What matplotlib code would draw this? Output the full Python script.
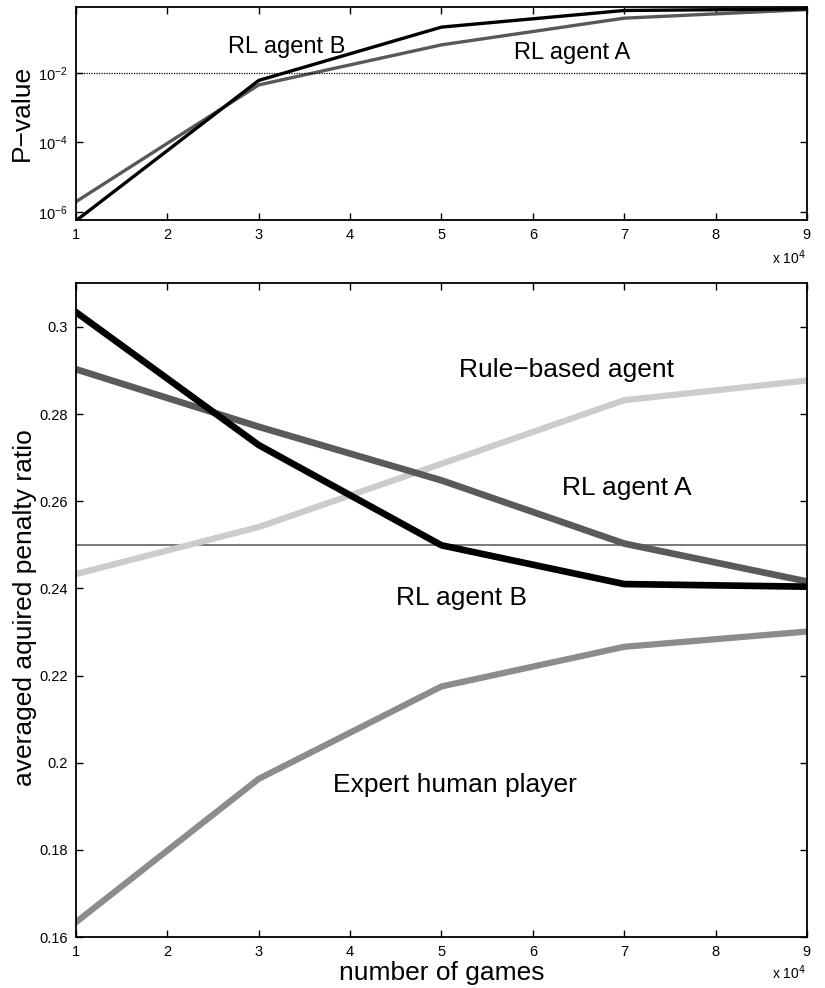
#!/usr/bin/env python3
"""P-value and averaged penalty ratio vs number of training games."""

import matplotlib

matplotlib.use("Agg")
import matplotlib.pyplot as plt
from matplotlib.ticker import FixedLocator, FuncFormatter, NullLocator

plt.rcParams["font.family"] = ["Liberation Sans", "DejaVu Sans"]

# number of games
games = [10000, 30000, 50000, 70000, 90000]

# top panel: P-values (log scale)
pval_agent_a = [1.95e-6, 4.6e-3, 6.6e-2, 3.9e-1, 6.9e-1]
pval_agent_b = [5.5e-7, 6.2e-3, 2.15e-1, 6.5e-1, 7.2e-1]
pval_threshold = 1e-2

# bottom panel: averaged aquired penalty ratio
ratio_agent_a = [0.2903, 0.2771, 0.2648, 0.2503, 0.2416]
ratio_agent_b = [0.3034, 0.2729, 0.2499, 0.2410, 0.2404]
ratio_rule_based = [0.2433, 0.2541, 0.2686, 0.2832, 0.2877]
ratio_expert = [0.1634, 0.1963, 0.2175, 0.2266, 0.2301]
ratio_reference = 0.25

x_ticks = [10000 * k for k in range(1, 10)]


def _style_axis(ax, exp_y):
    ax.set_xlim(10000, 90000)
    ax.xaxis.set_major_locator(FixedLocator(x_ticks))
    ax.xaxis.set_major_formatter(FuncFormatter(lambda v, _: f"{v / 1e4:g}"))
    ax.tick_params(direction="in", length=5, width=1.0, top=True, right=True,
                   labelsize=10.5, pad=6)
    for spine in ax.spines.values():
        spine.set_linewidth(1.3)
    ax.text(0.998, exp_y, r"x 10$^4$", transform=ax.transAxes,
            ha="right", va="center", fontsize=10)


fig = plt.figure(figsize=(8.25, 9.88), dpi=100)
ax_p = fig.add_axes([0.0921, 0.7773, 0.886, 0.2156])
ax_r = fig.add_axes([0.0921, 0.0516, 0.886, 0.662])

# --- P-value panel ---
ax_p.set_yscale("log")
ax_p.plot(games, pval_agent_a, color="#585858", lw=2.4, solid_joinstyle="round")
ax_p.plot(games, pval_agent_b, color="black", lw=2.4, solid_joinstyle="round")
ax_p.axhline(pval_threshold, color="black", lw=0.9, ls=(0, (1, 1)))
ax_p.set_ylim(10 ** -6.24, 10 ** -0.087)
ax_p.yaxis.set_major_locator(FixedLocator([1e-6, 1e-4, 1e-2]))
ax_p.yaxis.set_minor_locator(NullLocator())
ax_p.set_ylabel("P\u2212value", fontsize=19, va="center")
ax_p.yaxis.set_label_coords(-0.074, 0.502)
ax_p.text(33100, 0.057, "RL agent B", fontsize=17, ha="center", va="center")
ax_p.text(64300, 0.039, "RL agent A", fontsize=17, ha="center", va="center")
_style_axis(ax_p, -0.178)

# --- penalty ratio panel ---
ax_r.axhline(ratio_reference, color="#555555", lw=1.1)
ax_r.plot(games, ratio_rule_based, color="#cccccc", lw=4.5, solid_joinstyle="round")
ax_r.plot(games, ratio_expert, color="#8c8c8c", lw=4.5, solid_joinstyle="round")
ax_r.plot(games, ratio_agent_a, color="#5a5a5a", lw=4.8, solid_joinstyle="round")
ax_r.plot(games, ratio_agent_b, color="black", lw=4.8, solid_joinstyle="round")
ax_r.set_ylim(0.16, 0.3101)
ax_r.yaxis.set_major_locator(FixedLocator([0.16, 0.18, 0.2, 0.22, 0.24, 0.26, 0.28, 0.3]))
ax_r.yaxis.set_major_formatter(FuncFormatter(lambda v, _: f"{v:g}"))
ax_r.set_ylabel("averaged aquired penalty ratio", fontsize=19, va="center")
ax_r.yaxis.set_label_coords(-0.070, 0.503)
ax_r.set_xlabel("number of games", fontsize=19, labelpad=1)
ax_r.text(63700, 0.2902, "Rule\u2212based agent", fontsize=19, ha="center", va="center")
ax_r.text(70300, 0.2630, "RL agent A", fontsize=19, ha="center", va="center")
ax_r.text(52200, 0.2379, "RL agent B", fontsize=19, ha="center", va="center")
ax_r.text(51500, 0.1948, "Expert human player", fontsize=19, ha="center", va="center")
_style_axis(ax_r, -0.055)

fig.savefig("out.png", dpi=100)
